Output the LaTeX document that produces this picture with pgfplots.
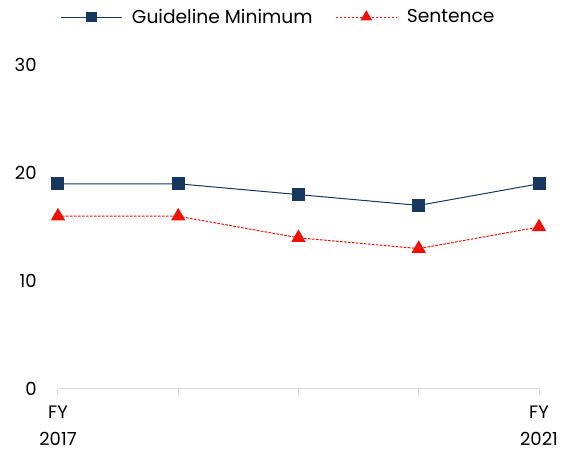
\documentclass[border=0pt]{standalone}
\usepackage{pgfplots}
\pgfplotsset{compat=1.18}
\usepackage{fontspec}
\setmainfont{Poppins}
\definecolor{navy}{HTML}{17375E}
\definecolor{sred}{HTML}{EE1108}
\definecolor{axgray}{HTML}{D9D9D9}

\begin{document}
\begin{tikzpicture}
\begin{axis}[
    scale only axis,
    width=360.75pt, height=243pt,
    xmin=0, xmax=4, ymin=0, ymax=30,
    axis x line=bottom, axis y line=left,
    x axis line style={-, draw=axgray, line width=0.75pt},
    y axis line style={draw=none},
    xtick={0,1,2,3,4},
    xticklabels={FY\\2017,,,,FY\\2021},
    xticklabel style={align=center, font=\fontsize{13.5}{20}\selectfont, yshift=-5pt},
    xtick style={draw=axgray, line width=0.75pt},
    ytick={0,10,20,30},
    ytick style={draw=none},
    yticklabel style={font=\fontsize{13.5}{14}\selectfont, xshift=-8pt},
    tick align=outside, major tick length=4.5pt,
    /pgf/number format/assume math mode=true,
    legend columns=2,
    legend style={draw=none, fill=none, at={(rel axis cs:0.459,1.148)}, anchor=center,
        font=\fontsize{14}{16}\selectfont,
        /tikz/every odd column/.append style={column sep=5pt},
        /tikz/every even column/.append style={column sep=15pt}},
    legend image code/.code={\draw[mark repeat=2,mark phase=2,#1,every mark/.append style={scale=0.8}] plot coordinates {(0pt,0pt)(23pt,0pt)(46pt,0pt)};},
]
% Guideline Minimum
\addplot[color=navy, line width=0.75pt, mark=square*, mark size=4.5pt, mark options={solid}]
    coordinates {(0,19)(1,19)(2,18)(3,17)(4,19)};
\addlegendentry{Guideline Minimum}
% Sentence
\addplot[color=sred, line width=0.75pt, dash pattern=on 2pt off 1pt, mark=triangle*, mark size=5.5pt, mark options={solid}]
    coordinates {(0,16)(1,16)(2,14)(3,13)(4,15)};
\addlegendentry{Sentence}
\end{axis}
\path (current axis.origin) ++(-43.5pt,-47.25pt) rectangle ++(430.5pt,339pt);
\end{tikzpicture}
\end{document}
